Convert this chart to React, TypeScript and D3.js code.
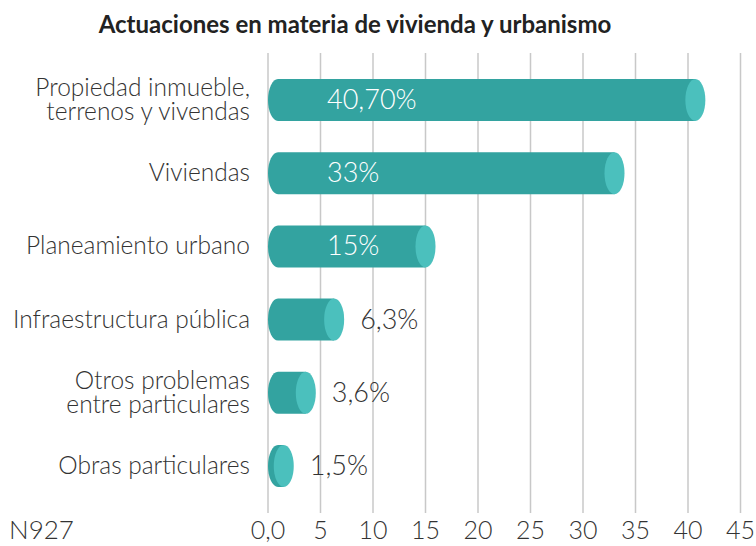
import React, { useEffect, useRef } from 'react';
import * as d3 from 'd3';

const categories = [
  ['Propiedad inmueble,', 'terrenos y vivendas'],
  ['Viviendas'],
  ['Planeamiento urbano'],
  ['Infraestructura pública'],
  ['Otros problemas', 'entre particulares'],
  ['Obras particulares'],
];
const values = [40.7, 33, 15, 6.3, 3.6, 1.5];
const valueLabels = ['40,70%', '33%', '15%', '6,3%', '3,6%', '1,5%'];
const ticks = [0, 5, 10, 15, 20, 25, 30, 35, 40, 45];
const tickLabels = ['0,0', '5', '10', '15', '20', '25', '30', '35', '40', '45'];

const FONT = 'Lato, "Open Sans", sans-serif';

export default function App() {
  const svgRef = useRef<SVGSVGElement>(null);

  useEffect(() => {
    const svg = d3.select(svgRef.current);
    svg.selectAll('*').remove();

    const x = d3.scaleLinear().domain([0, 45]).range([268, 740.5]);
    const y = d3.scalePoint<number>()
      .domain(values.map((_, i) => i))
      .range([100, 466]);

    const barH = 42;
    const rx = 10;

    // Title
    svg.append('text')
      .attr('x', 355)
      .attr('y', 33)
      .attr('text-anchor', 'middle')
      .style('font-family', FONT)
      .style('font-weight', 700)
      .style('font-size', '24px')
      .style('fill', '#222')
      .text('Actuaciones en materia de vivienda y urbanismo');

    // Gridlines
    svg.append('g')
      .selectAll('line')
      .data(ticks)
      .enter()
      .append('line')
      .attr('x1', d => x(d))
      .attr('x2', d => x(d))
      .attr('y1', 53)
      .attr('y2', 513)
      .attr('stroke', '#c8c8c8')
      .attr('stroke-width', 1.5);

    // Tick labels
    svg.append('g')
      .selectAll('text')
      .data(ticks)
      .enter()
      .append('text')
      .attr('x', d => x(d))
      .attr('y', 539)
      .attr('text-anchor', 'middle')
      .style('font-family', FONT)
      .style('font-weight', 300)
      .style('font-size', '25px')
      .style('fill', '#333')
      .text((_, i) => tickLabels[i]);

    svg.append('text')
      .attr('x', 9)
      .attr('y', 539)
      .style('font-family', FONT)
      .style('font-weight', 300)
      .style('font-size', '26px')
      .style('fill', '#333')
      .text('N927');

    // Category labels (one tspan per line)
    const cat = svg.append('g')
      .selectAll('text')
      .data(categories)
      .enter()
      .append('text')
      .attr('text-anchor', 'end')
      .style('font-family', FONT)
      .style('font-weight', 300)
      .style('font-size', '24.5px')
      .style('fill', '#333');

    cat.each(function (lines, i) {
      const t = d3.select(this);
      const cy = y(i)!;
      const lh = 24;
      const start = cy + 8 - ((lines.length - 1) * lh) / 2;
      lines.forEach((ln, j) => {
        t.append('tspan')
          .attr('x', 250)
          .attr('y', start + j * lh)
          .text(ln);
      });
    });

    // Cylinder bars: body with rounded left end + lighter cap ellipse
    const bars = svg.append('g')
      .selectAll('g')
      .data(values)
      .enter()
      .append('g');

    bars.append('path')
      .attr('d', (d, i) => {
        const cy = y(i)!;
        const x0 = x(0) + rx;
        const x1 = x(d);
        const top = cy - barH / 2;
        const bot = cy + barH / 2;
        return `M${x1},${top} L${x0},${top} A${rx},${barH / 2} 0 0 0 ${x0},${bot} L${x1},${bot} Z`;
      })
      .attr('fill', '#33a3a0');

    bars.append('ellipse')
      .attr('cx', d => x(d))
      .attr('cy', (_, i) => y(i)!)
      .attr('rx', rx)
      .attr('ry', barH / 2)
      .attr('fill', '#4bc0bd');

    // Value labels
    bars.append('text')
      .attr('x', d => (d > 10 ? 327 : x(d) + 26))
      .attr('y', (_, i) => y(i)! + 9)
      .style('font-family', FONT)
      .style('font-weight', 300)
      .style('font-size', '27px')
      .style('fill', d => (d > 10 ? '#ffffff' : '#333'))
      .text((_, i) => valueLabels[i]);
  }, []);

  return (
    <svg
      ref={svgRef}
      width={756}
      height={546}
      style={{ position: 'absolute', left: 0, top: 0, background: '#fff' }}
    />
  );
}
